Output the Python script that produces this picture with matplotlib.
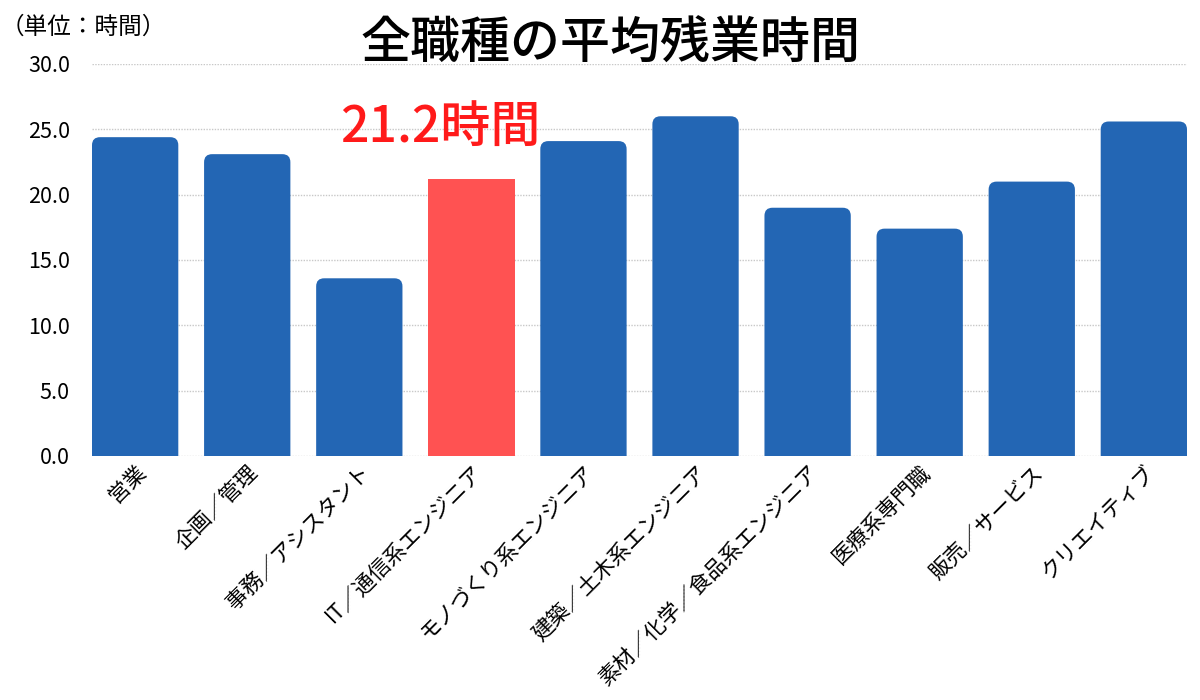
import matplotlib
matplotlib.use("Agg")
import matplotlib.pyplot as plt
from matplotlib.patches import FancyBboxPatch

plt.rcParams['font.family'] = ['Noto Sans CJK JP', 'DejaVu Sans']

categories = ["営業", "企画／管理", "事務／アシスタント", "IT／通信系エンジニア",
              "モノづくり系エンジニア", "建築／土木系エンジニア",
              "素材／化学／食品系エンジニア", "医療系専門職", "販売／サービス", "クリエイティブ"]
values = [24.4, 23.1, 13.6, 21.2, 24.1, 26.0, 19.0, 17.4, 21.0, 25.6]
highlight_index = 3
yticks = [0, 5, 10, 15, 20, 25, 30]

blue = "#2366B4"
red = "#FF5252"

fig = plt.figure(figsize=(12, 7), dpi=100)
ax = fig.add_axes([92/1200, 1-456/700, (1187-92)/1200, (456-64)/700])

x = list(range(len(categories)))
colors = [red if i == highlight_index else blue for i in x]
width = 0.77
bars = ax.bar(x, values, width=width, color=colors, zorder=3)

ax.set_xlim(-0.385, len(categories) - 1 + 0.385)
ax.set_ylim(0, 30)

# rounded top corners for the blue bars (bottom extends below 0 and is clipped)
px_per_x = (1187-92) / (len(categories) - 1 + 0.77)
px_per_y = (456-64) / 30
r = 8 / px_per_x
aspect = px_per_x / px_per_y
for i, b in enumerate(bars):
    if i == highlight_index:
        continue
    bx, by = b.get_x(), b.get_y()
    bw, bh = b.get_width(), b.get_height()
    b.set_visible(False)
    p = FancyBboxPatch((bx, by - 2), bw, bh + 2,
                       boxstyle=f"round,pad=0,rounding_size={r}",
                       mutation_aspect=aspect,
                       facecolor=b.get_facecolor(), edgecolor="none",
                       zorder=3, clip_on=True)
    ax.add_patch(p)

ax.set_yticks(yticks)
ax.set_yticklabels([f"{v:.1f}" for v in yticks], fontsize=15.5)
ax.yaxis.grid(True, linestyle=(0, (1, 1)), color="#C8C8C8", linewidth=1, zorder=0)
ax.set_axisbelow(True)
for s in ax.spines.values():
    s.set_visible(False)
ax.tick_params(axis='y', length=0, pad=16)
ax.tick_params(axis='x', length=0, pad=4)

ax.set_xticks(x)
ax.set_xticklabels(categories, rotation=45, ha='right', rotation_mode='anchor', fontsize=15.5)

fig.text(610/1200, 1-45/700, "全職種の平均残業時間", fontsize=36, ha='center', va='center',
         fontweight='medium', color='black')
fig.text(1/1200, 1-27/700, "（単位：時間）", fontsize=17, ha='left', va='center')

ax.text(highlight_index - 0.28, 25.1, f"{values[highlight_index]}時間", fontsize=36,
        color="#FF1A1A", ha='center', va='center', fontweight='medium')

fig.savefig("out.png", dpi=100)
